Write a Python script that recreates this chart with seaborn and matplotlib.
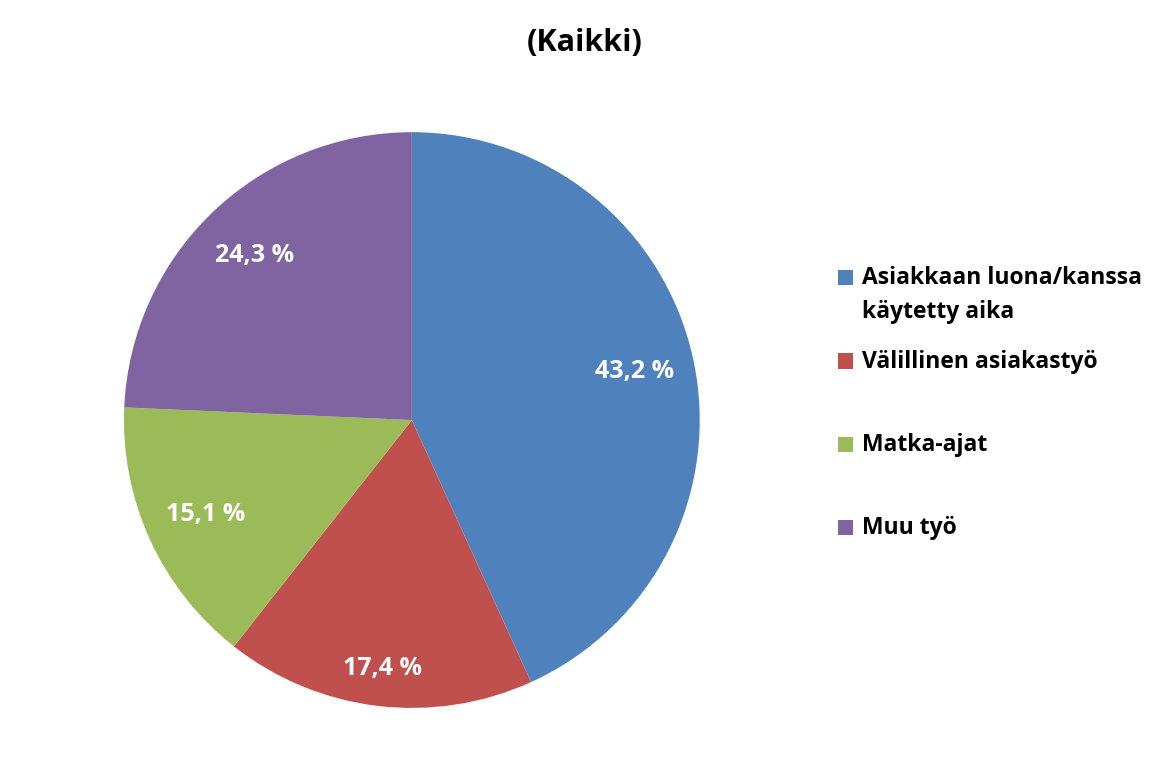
import matplotlib
matplotlib.use("Agg")
import matplotlib.pyplot as plt
import seaborn as sns
import numpy as np
from matplotlib.patches import Rectangle

categories = ["Asiakkaan luona/kanssa\nkäytetty aika", "Välillinen asiakastyö", "Matka-ajat", "Muu työ"]
values = [43.2, 17.4, 15.1, 24.3]
colors = ["#4F81BD", "#C0504D", "#9BBB59", "#8064A2"]
title = "(Kaikki)"

sns.set_theme(style="white")
plt.rcParams['font.family'] = ['Open Sans', 'DejaVu Sans']
plt.rcParams['text.color'] = 'black'

fig = plt.figure(figsize=(11.75, 7.75), dpi=100)
ax = fig.add_axes([0.1055, 0.0865, 0.490, 0.743])

wedges, texts, autotexts = ax.pie(
    values, colors=colors, startangle=90, counterclock=False,
    autopct=lambda p: f"{p:.1f} %".replace(".", ","), pctdistance=0.79,
    wedgeprops=dict(linewidth=0), textprops=dict(color="white", fontsize=18, fontweight="bold"))
ax.set_xlim(-1, 1)
ax.set_ylim(-1, 1)
ax.set_aspect("equal")
ax.axis("off")

# Excel's best-fit places the small red label slightly further out
w = wedges[1]
mid = np.deg2rad((w.theta1 + w.theta2) / 2)
autotexts[1].set_position((0.87 * np.cos(mid), 0.87 * np.sin(mid)))

fig.text(0.498, 1 - 43 / 775, title, ha="center", va="center", fontsize=22,
         fontweight="bold", color="black")

# Legend (Excel layout)
W, H = 1175, 775
leg_y = [277, 361, 444, 527]
for lab, c, y in zip(categories, colors, leg_y):
    fig.patches.append(Rectangle((838 / W, 1 - (y + 7.5) / H), 15 / W, 15 / H,
                                 transform=fig.transFigure, facecolor=c, edgecolor="none"))
    fig.text(862 / W, 1 - (y - 11) / H, lab, ha="left", va="top", fontsize=16.5,
             fontweight="bold", color="black", linespacing=1.55)

fig.savefig("out.png", dpi=100)
